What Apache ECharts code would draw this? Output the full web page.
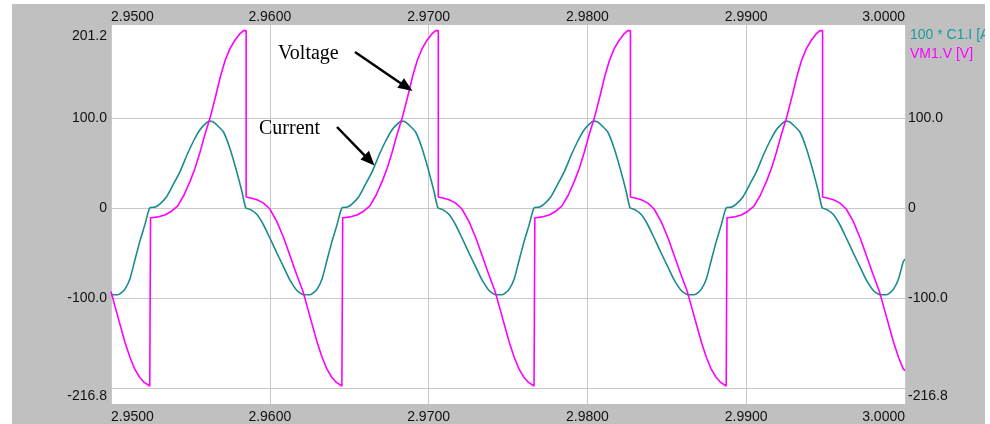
<!DOCTYPE html>
<html><head><meta charset="utf-8">
<script src="https://cdn.jsdelivr.net/npm/echarts@6/dist/echarts.min.js"></script>
<style>html,body{margin:0;padding:0;background:#fff}#c{width:990px;height:424px}</style>
</head><body><div id="c"></div>
<script>
const xTickLabels = ['2.9500', '2.9600', '2.9700', '2.9800', '2.9900', '3.0000'];
const yLabelValues = [191, 100, 0, -100, -209];
const yLabelLeft = ['201.2', '100.0', '0', '-100.0', '-216.8'];
const yLabelRight = ['', '100.0', '0', '-100.0', '-216.8'];
const yGridValues = [100, 0, -100, -201];
const seriesNames = ['100 * C1.I [A]', 'VM1.V [V]'];
const annotations = ['Voltage', 'Current'];

// 100 * C1.I  [time s, value]
const current = [
[2.95000,-96.4],[2.95014,-96.6],[2.95044,-96.6],[2.95064,-94.5],[2.95089,-90],[2.95119,-79],[2.95149,-59],[2.95182,-37],[2.95214,-18.4],[2.95244,0],
[2.95279,1],[2.95309,4.5],[2.95349,12],[2.95389,25],[2.95434,40],[2.95479,59],[2.95519,74],[2.95559,86.5],[2.95589,92.5],[2.95619,96.4],[2.95639,96],[2.95664,92.5],[2.95709,84],[2.95749,66],[2.95789,42],[2.95824,18.5],[2.95849,0],[2.95879,-2],[2.95919,-7.5],[2.95959,-18.5],[2.95999,-33],[2.96044,-50],[2.96089,-66.5],[2.96129,-81],[2.96169,-91.5],[2.96204,-96],[2.96224,-96.6],[2.96254,-96.6],[2.96274,-94.5],[2.96299,-90],[2.96329,-79],[2.96359,-59],[2.96392,-37],[2.96424,-18.4],[2.96454,0],
[2.96489,1],[2.96519,4.5],[2.96559,12],[2.96599,25],[2.96644,40],[2.96689,59],[2.96729,74],[2.96769,86.5],[2.96799,92.5],[2.96829,96.4],[2.96849,96],[2.96874,92.5],[2.96919,84],[2.96959,66],[2.96999,42],[2.97034,18.5],[2.97059,0],[2.97089,-2],[2.97129,-7.5],[2.97169,-18.5],[2.97209,-33],[2.97254,-50],[2.97299,-66.5],[2.97339,-81],[2.97379,-91.5],[2.97414,-96],[2.97434,-96.6],[2.97464,-96.6],[2.97484,-94.5],[2.97509,-90],[2.97539,-79],[2.97569,-59],[2.97602,-37],[2.97634,-18.4],[2.97664,0],
[2.97699,1],[2.97729,4.5],[2.97769,12],[2.97809,25],[2.97854,40],[2.97899,59],[2.97939,74],[2.97979,86.5],[2.98009,92.5],[2.98039,96.4],[2.98059,96],[2.98084,92.5],[2.98129,84],[2.98169,66],[2.98209,42],[2.98244,18.5],[2.98269,0],[2.98299,-2],[2.98339,-7.5],[2.98379,-18.5],[2.98419,-33],[2.98464,-50],[2.98509,-66.5],[2.98549,-81],[2.98589,-91.5],[2.98624,-96],[2.98644,-96.6],[2.98674,-96.6],[2.98694,-94.5],[2.98719,-90],[2.98749,-79],[2.98779,-59],[2.98812,-37],[2.98844,-18.4],[2.98874,0],
[2.98909,1],[2.98939,4.5],[2.98979,12],[2.99019,25],[2.99064,40],[2.99109,59],[2.99149,74],[2.99189,86.5],[2.99219,92.5],[2.99249,96.4],[2.99269,96],[2.99294,92.5],[2.99339,84],[2.99379,66],[2.99419,42],[2.99454,18.5],[2.99479,0],[2.99509,-2],[2.99549,-7.5],[2.99589,-18.5],[2.99629,-33],[2.99674,-50],[2.99719,-66.5],[2.99759,-81],[2.99799,-91.5],[2.99834,-96],[2.99854,-96.6],[2.99884,-96.6],[2.99904,-94.5],[2.99929,-90],[2.99959,-79],[2.99989,-60],[3.00000,-57]
];

// VM1.V  [time s, value]
const voltage = [
[2.95000,-93],[2.95029,-112],[2.95059,-131],[2.95089,-150],[2.95119,-166],[2.95149,-179],[2.95179,-188],[2.95209,-194],[2.95244,-198],[2.95249,-198],
[2.95249,-11],[2.95299,-10],[2.95339,-8],[2.95379,-4],[2.95419,2],[2.95459,14],[2.95499,30],[2.95529,44],[2.95559,61],[2.95589,80],[2.95624,100],[2.95659,124],[2.95689,146],[2.95719,164],[2.95749,177],[2.95779,186],[2.95809,193],[2.95834,197],[2.95851,197],[2.95851,12],[2.95879,11],[2.95919,9],[2.95959,5.5],[2.95999,-1],[2.96044,-15],[2.96089,-34],[2.96129,-54],[2.96169,-74],[2.96209,-93],[2.96239,-112],[2.96269,-131],[2.96299,-150],[2.96329,-166],[2.96359,-179],[2.96389,-188],[2.96419,-194],[2.96454,-198],[2.96459,-198],
[2.96459,-11],[2.96509,-10],[2.96549,-8],[2.96589,-4],[2.96629,2],[2.96669,14],[2.96709,30],[2.96739,44],[2.96769,61],[2.96799,80],[2.96834,100],[2.96869,124],[2.96899,146],[2.96929,164],[2.96959,177],[2.96989,186],[2.97019,193],[2.97044,197],[2.97061,197],[2.97061,12],[2.97089,11],[2.97129,9],[2.97169,5.5],[2.97209,-1],[2.97254,-15],[2.97299,-34],[2.97339,-54],[2.97379,-74],[2.97419,-93],[2.97449,-112],[2.97479,-131],[2.97509,-150],[2.97539,-166],[2.97569,-179],[2.97599,-188],[2.97629,-194],[2.97664,-198],[2.97669,-198],
[2.97669,-11],[2.97719,-10],[2.97759,-8],[2.97799,-4],[2.97839,2],[2.97879,14],[2.97919,30],[2.97949,44],[2.97979,61],[2.98009,80],[2.98044,100],[2.98079,124],[2.98109,146],[2.98139,164],[2.98169,177],[2.98199,186],[2.98229,193],[2.98254,197],[2.98271,197],[2.98271,12],[2.98299,11],[2.98339,9],[2.98379,5.5],[2.98419,-1],[2.98464,-15],[2.98509,-34],[2.98549,-54],[2.98589,-74],[2.98629,-93],[2.98659,-112],[2.98689,-131],[2.98719,-150],[2.98749,-166],[2.98779,-179],[2.98809,-188],[2.98839,-194],[2.98874,-198],[2.98879,-198],
[2.98879,-11],[2.98929,-10],[2.98969,-8],[2.99009,-4],[2.99049,2],[2.99089,14],[2.99129,30],[2.99159,44],[2.99189,61],[2.99219,80],[2.99254,100],[2.99289,124],[2.99319,146],[2.99349,164],[2.99379,177],[2.99409,186],[2.99439,193],[2.99464,197],[2.99481,197],[2.99481,12],[2.99509,11],[2.99549,9],[2.99589,5.5],[2.99629,-1],[2.99674,-15],[2.99719,-34],[2.99759,-54],[2.99799,-74],[2.99839,-93],[2.99869,-112],[2.99899,-131],[2.99929,-150],[2.99959,-166],[2.99989,-179],[3.00000,-181]
];

const TEAL = '#1b8b8b', MAG = '#ff00ff', GRAY = '#c0c0c0', GRID = '#c8c8c8';
const FONT = 'Liberation Sans, Arial, sans-serif';
const chart = echarts.init(document.getElementById('c'), null, {renderer: 'canvas'});

function xFmt(v) { return xTickLabels[Math.round((v - 2.95) / 0.01)] || ''; }
function yFmt(labels) {
  return function (v) {
    let best = -1, bd = 1e9;
    yLabelValues.forEach((y, i) => { const d = Math.abs(y - v); if (d < bd) { bd = d; best = i; } });
    return bd < 0.5 ? labels[best] : '';
  };
}
const xCommon = {
  type: 'value', min: 2.95, max: 3.0, interval: 0.01,
  axisLine: {show: false}, axisTick: {show: false},
  axisLabel: {formatter: xFmt, color: '#111', fontSize: 14, fontFamily: FONT,
    alignMinLabel: 'left', alignMaxLabel: 'right', showMinLabel: true, showMaxLabel: true}
};
const yCommon = {
  type: 'value', min: -218, max: 203.2,
  axisLine: {show: false},
  axisTick: {show: false, customValues: yGridValues}
};

const option = {
  animation: false,
  backgroundColor: GRAY,
  grid: {left: 111, right: 85, top: 25, bottom: 18, show: true, backgroundColor: '#ffffff', borderWidth: 0},
  xAxis: [
    Object.assign({}, xCommon, {position: 'bottom',
      splitLine: {show: true, lineStyle: {color: GRID, width: 1}},
      axisLabel: Object.assign({}, xCommon.axisLabel, {margin: 6})}),
    Object.assign({}, xCommon, {position: 'top', splitLine: {show: false},
      axisLabel: Object.assign({}, xCommon.axisLabel, {margin: 1})})
  ],
  yAxis: [
    Object.assign({}, yCommon, {position: 'left',
      splitLine: {show: true, lineStyle: {color: GRID, width: 1}},
      axisLabel: {customValues: yLabelValues, formatter: yFmt(yLabelLeft), color: '#111', fontSize: 14, fontFamily: FONT, margin: 4}}),
    Object.assign({}, yCommon, {position: 'right', splitLine: {show: false},
      axisLabel: {customValues: yLabelValues.slice(1), formatter: yFmt(yLabelRight), color: '#111', fontSize: 14, fontFamily: FONT, margin: 3}})
  ],
  series: [
    {name: seriesNames[0], type: 'line', data: current, xAxisIndex: 0, yAxisIndex: 0,
      showSymbol: false, smooth: 0.2,
      lineStyle: {color: TEAL, width: 1.6}, itemStyle: {color: TEAL}, z: 3},
    {name: seriesNames[1], type: 'line', data: voltage, xAxisIndex: 0, yAxisIndex: 0,
      showSymbol: false, lineStyle: {color: MAG, width: 1.6}, itemStyle: {color: MAG}, z: 4}
  ],
  graphic: [
    {type: 'rect', shape: {x: 0, y: 0, width: 12, height: 424}, style: {fill: '#fff'}, z: 100, silent: true},
    {type: 'rect', shape: {x: 0, y: 0, width: 990, height: 4}, style: {fill: '#fff'}, z: 100, silent: true},
    {type: 'text', x: 910, y: 35, style: {text: seriesNames[0], fill: '#1b9a9a', font: '14px ' + FONT, textVerticalAlign: 'middle'}, z: 100},
    {type: 'text', x: 910, y: 54, style: {text: seriesNames[1], fill: MAG, font: '14px ' + FONT, textVerticalAlign: 'middle'}, z: 100},
    {type: 'rect', shape: {x: 985, y: 0, width: 5, height: 424}, style: {fill: '#fff'}, z: 101, silent: true},
    {type: 'text', x: 278, y: 54, style: {text: annotations[0], fill: '#000', font: '20px "Liberation Serif", "Times New Roman", serif', textVerticalAlign: 'middle'}, z: 100},
    {type: 'text', x: 259, y: 129, style: {text: annotations[1], fill: '#000', font: '20px "Liberation Serif", "Times New Roman", serif', textVerticalAlign: 'middle'}, z: 100},
    {type: 'line', shape: {x1: 355, y1: 52, x2: 401, y2: 83.5}, style: {stroke: '#000', lineWidth: 2.5}, z: 100},
    {type: 'polygon', shape: {points: [[412.5, 91], [397.3, 87.8], [404, 78.2]]}, style: {fill: '#000'}, z: 100},
    {type: 'line', shape: {x1: 337, y1: 127, x2: 365, y2: 155.8}, style: {stroke: '#000', lineWidth: 2.5}, z: 100},
    {type: 'polygon', shape: {points: [[374.5, 165.5], [360.5, 159.5], [369, 150.8]]}, style: {fill: '#000'}, z: 100}
  ]
};
chart.setOption(option);
</script>
</body></html>
